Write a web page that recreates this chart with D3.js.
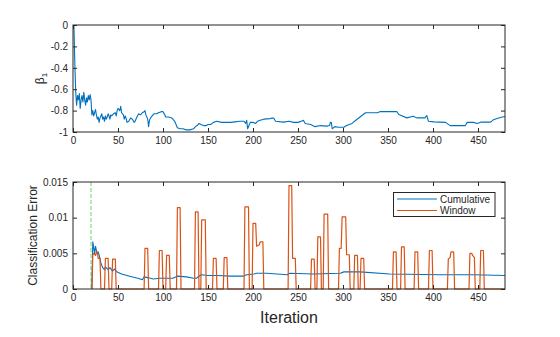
<!DOCTYPE html>
<html><head><meta charset="utf-8">
<script src="https://cdn.jsdelivr.net/npm/d3@7"></script>
<style>body{margin:0;background:#fff}svg{display:block}text{font-family:"Liberation Sans",Arial,sans-serif;fill:#262626}</style>
</head><body><svg id="c" width="560" height="337"></svg>
<script>
// ---------- DATA ----------
const xTicks = [0,50,100,150,200,250,300,350,400,450];
const betaTicks = [-1,-0.8,-0.6,-0.4,-0.2,0];
const errTicks = [0,0.005,0.01,0.015];
const seriesNames = ["Cumulative","Window"];
const warmupIter = 20;

const betaIter = [1,2,3,4,5,6,7,8,9,10,11,12,13,14,15,16,17,18,19,20,21,22,23,24,25,26,27,28,29,30,31,32,33,34,35,36,37,38,39,40,41,42,43,45,47,48,49,50,52,53,54,56,57,58,59,60,62,64,66,68,69,71,73,75,77,79,80,81,82,83,84,85,86,88,90,93,95,98,100,102,103,106,110,113,116,119,122,126,130,134,136,138,140,142,145,148,150,153,156,160,165,170,175,180,185,190,192,193,194,196,197,200,203,205,208,212,219,221,223,225,234,240,245,250,255,256,258,264,269,275,282,285,286,287,288,291,295,301,304,310,315,321,325,338,341,360,362,371,378,382,391,393,395,401,414,419,436,438,445,449,453,464,467,473,476,480];
const betaVal = [0,-0.35,-0.62,-0.75,-0.66,-0.70,-0.64,-0.78,-0.70,-0.66,-0.72,-0.63,-0.70,-0.75,-0.68,-0.72,-0.66,-0.70,-0.65,-0.70,-0.84,-0.80,-0.85,-0.82,-0.79,-0.84,-0.88,-0.86,-0.91,-0.87,-0.85,-0.83,-0.88,-0.86,-0.90,-0.85,-0.88,-0.86,-0.83,-0.85,-0.88,-0.84,-0.85,-0.83,-0.82,-0.85,-0.80,-0.78,-0.80,-0.76,-0.82,-0.84,-0.88,-0.85,-0.87,-0.91,-0.90,-0.87,-0.88,-0.91,-0.90,-0.86,-0.83,-0.84,-0.82,-0.81,-0.80,-0.84,-0.86,-0.88,-0.95,-0.89,-0.87,-0.85,-0.83,-0.83,-0.82,-0.81,-0.81,-0.84,-0.86,-0.86,-0.87,-0.90,-0.96,-0.97,-0.97,-0.98,-0.98,-0.97,-0.95,-0.94,-0.92,-0.93,-0.94,-0.94,-0.93,-0.93,-0.91,-0.90,-0.91,-0.91,-0.91,-0.905,-0.90,-0.90,-0.92,-0.89,-0.97,-0.93,-0.91,-0.91,-0.92,-0.90,-0.89,-0.88,-0.875,-0.87,-0.87,-0.90,-0.908,-0.90,-0.91,-0.91,-0.895,-0.89,-0.92,-0.93,-0.95,-0.94,-0.945,-0.94,-0.91,-0.91,-0.97,-0.95,-0.955,-0.955,-0.94,-0.92,-0.886,-0.846,-0.82,-0.82,-0.81,-0.81,-0.837,-0.868,-0.852,-0.868,-0.868,-0.846,-0.90,-0.905,-0.91,-0.94,-0.94,-0.91,-0.91,-0.92,-0.908,-0.908,-0.886,-0.87,-0.862,-0.855];

const cumIter = [21,22,24,25,27,28,30,31,33,35,36,39,41,44,46,49,54,63,72,77,79,83,89,96,105,111,116,126,134,137,141,143,150,160,175,189,193,201,204,215,238,241,267,297,301,319,352,408,445,480];
const cumVal = [0,0.0066,0.005,0.006,0.0048,0.0052,0.0043,0.0036,0.0030,0.0027,0.0031,0.0027,0.0030,0.0025,0.0028,0.0024,0.0021,0.0018,0.0015,0.0013,0.0017,0.0016,0.0014,0.0015,0.0015,0.0015,0.0018,0.0017,0.0015,0.0015,0.0019,0.0020,0.0019,0.0019,0.0018,0.0018,0.0020,0.0021,0.0022,0.0022,0.0020,0.0022,0.0021,0.0022,0.0024,0.0024,0.0021,0.0020,0.0020,0.0019];

const winIter = [21,22,23,25,26,27,28,30,31,35,36,39,40,43,44,47,48,79,80,83,84,95,96,99,100,103,104,107,108,115,116,119,120,135,136,139,140,142,143,147,148,155,156,159,160,167,168,171,172,190,191,195,196,199,200,203,204,207,208,211,212,239,240,243,244,247,248,264,265,268,269,271,272,275,276,278,279,283,284,295,296,298,299,303,304,307,308,312,313,316,317,319,320,323,324,355,356,359,360,364,365,368,369,379,380,383,384,395,396,399,400,416,417,419,420,423,424,440,441,443,444,446,447,452,453,456,457,480];
const winVal = [0,0.0048,0.005,0.0047,0.0052,0.0052,0.0043,0.0043,0,0,0.0043,0.0043,0,0,0.0042,0.0042,0,0,0.0057,0.0057,0,0,0.0054,0.0054,0,0,0.0047,0.0047,0,0,0.0114,0.0114,0,0,0.0108,0.0108,0,0,0.0097,0.0097,0,0,0.0043,0.0043,0,0,0.0044,0.0044,0,0,0.0115,0.0115,0,0,0.0092,0.0092,0.006,0.0062,0.0066,0.0066,0,0,0.0145,0.0145,0.0043,0.0043,0,0,0.0042,0.0042,0,0,0.0073,0.0073,0,0,0.0105,0.0105,0,0,0.0057,0.0057,0.0101,0.0101,0.0048,0.0048,0,0,0.0047,0.0047,0,0,0.0043,0.0043,0,0,0.0052,0.0052,0,0,0.0059,0.0059,0,0,0.0052,0.0052,0,0,0.0054,0.0054,0,0,0.0042,0.0044,0.0052,0.0052,0,0,0.005,0.005,0.0047,0.0044,0,0,0.0054,0.0054,0,0];

// ---------- DRAW ----------
const svg = d3.select("#c");
const L = 73, R = 505;
const T1 = 25, B1 = 132, T2 = 182, B2 = 289;
const axisCol = "#262626";
const blue = "#0072BD", orange = "#D95319";

const x = d3.scaleLinear().domain([0,480]).range([L,R]);
const y1 = d3.scaleLinear().domain([-1,0]).range([B1,T1]);
const y2 = d3.scaleLinear().domain([0,0.015]).range([B2,T2]);

function drawAxes(y, T, B, yt) {
  const fmt = d => String(d);
  const style = g => { g.select(".domain").remove(); g.selectAll("line").attr("stroke",axisCol); g.selectAll("text").attr("font-size",10).attr("fill",axisCol).style("font-family","'Liberation Sans',Arial,sans-serif"); };
  svg.append("g").attr("transform",`translate(0,${B})`).call(d3.axisBottom(x).tickValues(xTicks).tickSize(-4).tickPadding(5).tickFormat(fmt)).call(style);
  svg.append("g").attr("transform",`translate(0,${T})`).call(d3.axisTop(x).tickValues(xTicks).tickSize(-4).tickFormat("")).call(style);
  svg.append("g").attr("transform",`translate(${L},0)`).call(d3.axisLeft(y).tickValues(yt).tickSize(-4).tickPadding(5).tickFormat(fmt)).call(style);
  svg.append("g").attr("transform",`translate(${R},0)`).call(d3.axisRight(y).tickValues(yt).tickSize(-4).tickFormat("")).call(style);
  svg.append("rect").attr("x",L).attr("y",T).attr("width",R-L).attr("height",B-T).attr("fill","none").attr("stroke",axisCol).attr("stroke-width",1);
}

// top plot
const line1 = d3.line().x((d,i)=>x(betaIter[i])).y(d=>y1(d));
svg.append("path").attr("d",line1(betaVal)).attr("fill","none").attr("stroke",blue).attr("stroke-width",1.1).attr("stroke-linejoin","round");
drawAxes(y1,T1,B1,betaTicks);
const bl = svg.append("text").attr("transform",`translate(44,${(T1+B1)/2}) rotate(-90)`).attr("text-anchor","middle").attr("font-size",12);
bl.append("tspan").text("β");
bl.append("tspan").attr("font-size",8).attr("dy",3).text("1");

// bottom plot
svg.append("line").attr("x1",x(warmupIter)).attr("x2",x(warmupIter)).attr("y1",T2).attr("y2",B2)
  .attr("stroke","#6fd46a").attr("stroke-width",1).attr("stroke-dasharray","4,2");
const lineW = d3.line().x((d,i)=>x(winIter[i])).y(d=>y2(d)).curve(d3.curveLinear);
const lineC = d3.line().x((d,i)=>x(cumIter[i])).y(d=>y2(d));
svg.append("path").attr("d",lineC(cumVal)).attr("fill","none").attr("stroke",blue).attr("stroke-width",1.1).attr("stroke-linejoin","round");
svg.append("path").attr("d",lineW(winVal)).attr("fill","none").attr("stroke",orange).attr("stroke-width",1.2).attr("stroke-linejoin","round");
drawAxes(y2,T2,B2,errTicks);
svg.append("text").attr("transform",`translate(37,${(T2+B2)/2}) rotate(-90)`).attr("text-anchor","middle").attr("font-size",12).text("Classification Error");
svg.append("text").attr("x",(L+R)/2).attr("y",323).attr("text-anchor","middle").attr("font-size",16).text("Iteration");

// legend
const lg = svg.append("g");
lg.append("rect").attr("x",393.5).attr("y",192.5).attr("width",101.5).attr("height",24).attr("fill","#fff").attr("stroke",axisCol).attr("stroke-width",1);
[blue,orange].forEach((c,i)=>{
  const yy = 199 + i*11.5;
  lg.append("line").attr("x1",397).attr("x2",437).attr("y1",yy).attr("y2",yy).attr("stroke",c).attr("stroke-width",1.1);
  lg.append("text").attr("x",440).attr("y",yy+3.5).attr("font-size",10).text(seriesNames[i]);
});
</script></body></html>
